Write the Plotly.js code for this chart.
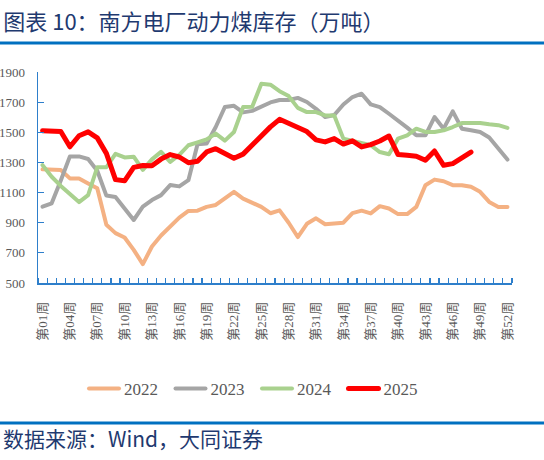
<!DOCTYPE html>
<html>
<head>
<meta charset="utf-8">
<script src="https://cdn.plot.ly/plotly-3.0.1.min.js"></script>
<style>
html, body { margin: 0; padding: 0; background: #fff; }
#chart { width: 544px; height: 460px; }
.js-line { stroke-linejoin: round; stroke-linecap: round; }
</style>
</head>
<body>
<div id="chart"></div>
<script>
const weekLabels = ["第01周","第02周","第03周","第04周","第05周","第06周","第07周","第08周","第09周","第10周",
  "第11周","第12周","第13周","第14周","第15周","第16周","第17周","第18周","第19周","第20周",
  "第21周","第22周","第23周","第24周","第25周","第26周","第27周","第28周","第29周","第30周",
  "第31周","第32周","第33周","第34周","第35周","第36周","第37周","第38周","第39周","第40周",
  "第41周","第42周","第43周","第44周","第45周","第46周","第47周","第48周","第49周","第50周",
  "第51周","第52周"];
const weekNums = [1,2,3,4,5,6,7,8,9,10,11,12,13,14,15,16,17,18,19,20,21,22,23,24,25,26,
  27,28,29,30,31,32,33,34,35,36,37,38,39,40,41,42,43,44,45,46,47,48,49,50,51,52];
const shownWeeks = [1,4,7,10,13,16,19,22,25,28,31,34,37,40,43,46,49,52];
const shownLabels = ["第01周","第04周","第07周","第10周","第13周","第16周","第19周","第22周","第25周",
  "第28周","第31周","第34周","第37周","第40周","第43周","第46周","第49周","第52周"];
const yTicks = [500,700,900,1100,1300,1500,1700,1900];

const s2022 = [1254,1254,1250,1194,1194,1161,1128,886,831,802,720,625,742,815,875,934,978,980,1005,1018,
  1062,1105,1060,1030,1005,963,982,900,805,893,929,890,896,900,964,980,962,1010,994,957,
  957,1005,1149,1186,1175,1149,1149,1138,1105,1038,1005,1005];
const s2023 = [1006,1029,1180,1340,1340,1323,1245,1080,1070,995,918,1006,1050,1083,1150,1141,1182,1420,1425,1535,
  1668,1676,1632,1642,1668,1698,1714,1714,1728,1701,1656,1601,1615,1684,1734,1756,1685,1667,1623,1579,
  1531,1480,1480,1601,1524,1639,1524,1513,1502,1465,1392,1319];
const s2024 = [1282,1205,1144,1087,1037,1083,1268,1268,1357,1333,1338,1251,1320,1370,1304,1350,1414,1433,1453,1491,
  1445,1502,1667,1670,1822,1816,1773,1740,1662,1634,1634,1612,1612,1458,1443,1430,1414,1369,1354,1458,
  1480,1524,1502,1502,1513,1535,1561,1561,1561,1553,1547,1529];
const s2025 = [1510,1508,1505,1404,1477,1503,1463,1360,1186,1178,1267,1280,1278,1322,1352,1336,1298,1308,1370,1391,
  1355,1328,1355,1417,1481,1536,1586,1560,1535,1505,1450,1436,1458,1422,1443,1403,1418,1442,1475,1352,
  1347,1341,1314,1376,1281,1292,1330,1369];

const seriesNames = ["2022","2023","2024","2025"];
const seriesData = [s2022, s2023, s2024, s2025];
const seriesColors = ["#F4B183","#A5A5A5","#A9D18E","#FF0000"];
const seriesWidths = [4, 4, 4, 5];

const traces = seriesData.map((vals, i) => ({
  type: "scatter",
  mode: "lines",
  name: seriesNames[i],
  x: weekNums.slice(0, vals.length),
  y: vals,
  line: { color: seriesColors[i], width: seriesWidths[i] },
  hoverinfo: "skip"
}));

const axisBlue = "#2E7FCB";
const ruleBlue = "#0070C0";
const navy = "#1F3A70";
const L = 38, R = 32, T = 72, B = 177;
const W = 544 - L - R, H = 460 - T - B;
const px2x = p => (p - L) / W;
const py2y = p => (460 - B - p) / H;

const layout = {
  width: 544, height: 460,
  margin: { l: L, r: R, t: T, b: B, pad: 0 },
  paper_bgcolor: "#ffffff",
  plot_bgcolor: "#ffffff",
  showlegend: true,
  title: {
    text: "图表 10：南方电厂动力煤库存（万吨）",
    x: 0.006, xref: "container", xanchor: "left",
    y: 1 - 22 / 460, yref: "container", yanchor: "middle",
    font: { family: "Noto Sans CJK SC, sans-serif", size: 22, color: navy }
  },
  xaxis: {
    type: "linear",
    range: [0.5, 52.5],
    showgrid: false, zeroline: false,
    showline: true, linecolor: axisBlue, linewidth: 1.5,
    tickmode: "array", tickvals: shownWeeks, ticktext: shownLabels,
    ticks: "", tickangle: -90,
    ticklabelstandoff: 12,
    tickfont: { family: "Liberation Serif, Noto Sans CJK SC, serif", size: 13, color: "#595959" },
    minor: { tick0: 0.5, dtick: 1, ticks: "inside", ticklen: 5, tickwidth: 1.2, tickcolor: axisBlue, showgrid: false },
    fixedrange: true
  },
  yaxis: {
    range: [500, 1900],
    showgrid: false, zeroline: false,
    showline: true, linecolor: axisBlue, linewidth: 1.5,
    tickmode: "array", tickvals: yTicks,
    ticks: "inside", ticklen: 6, tickwidth: 1.2, tickcolor: axisBlue,
    ticklabelstandoff: 9,
    tickfont: { family: "Liberation Serif, serif", size: 13, color: "#595959" },
    fixedrange: true
  },
  legend: {
    orientation: "h",
    x: px2x(84), xanchor: "left",
    y: py2y(389), yanchor: "middle",
    font: { family: "Liberation Serif, serif", size: 17, color: "#595959" },
    entrywidth: 41.5,
    entrywidthmode: "pixels",
    bgcolor: "rgba(0,0,0,0)"
  },
  shapes: [
    { type: "line", xref: "paper", yref: "paper", x0: px2x(0), x1: px2x(544), y0: py2y(43), y1: py2y(43),
      line: { color: ruleBlue, width: 3 } },
    { type: "line", xref: "paper", yref: "paper", x0: px2x(0), x1: px2x(544), y0: py2y(423), y1: py2y(423),
      line: { color: ruleBlue, width: 3 } }
  ],
  annotations: [
    { xref: "paper", yref: "paper", x: px2x(1), y: py2y(438), xanchor: "left", yanchor: "middle",
      showarrow: false, text: "数据来源：Wind，大同证券",
      font: { family: "Noto Sans CJK SC, sans-serif", size: 21, color: navy } }
  ]
};

Plotly.newPlot("chart", traces, layout, { displayModeBar: false, staticPlot: true });
</script>
</body>
</html>
